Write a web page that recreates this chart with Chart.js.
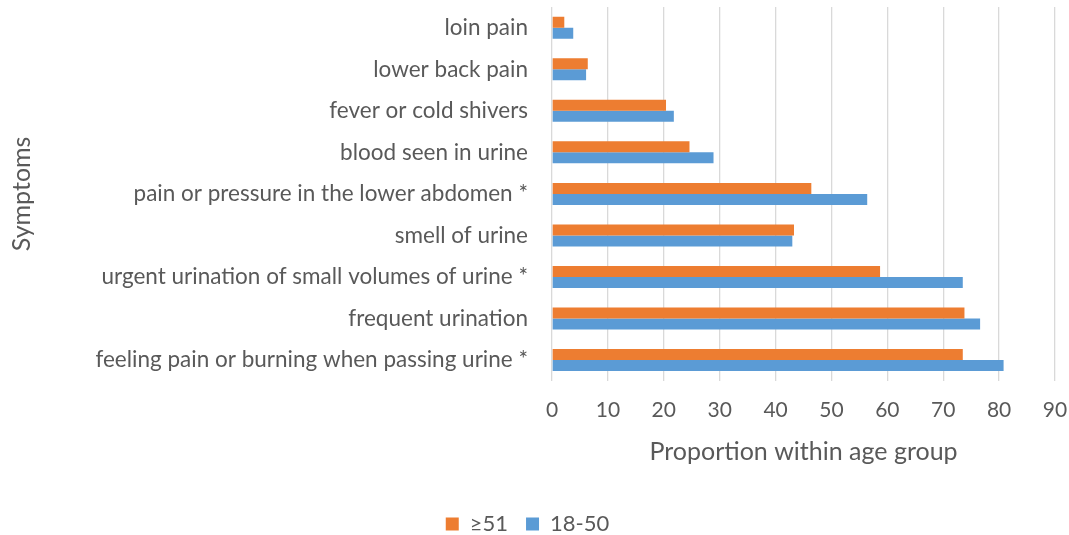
<!DOCTYPE html>
<html>
<head>
<meta charset="utf-8">
<script src="https://cdn.jsdelivr.net/npm/chart.js@4"></script>
<style>
  html, body { margin: 0; padding: 0; background: #fff; }
  #wrap { width: 1069px; height: 535px; }
</style>
</head>
<body>
<div id="wrap"><canvas id="symptoms"></canvas></div>
<script>
const symptoms = ["loin pain", "lower back pain", "fever or cold shivers", "blood seen in urine",
  "pain or pressure in the lower abdomen *", "smell of urine",
  "urgent urination of small volumes of urine *", "frequent urination",
  "feeling pain or burning when passing urine *"];
const older = [2.2, 6.4, 20.4, 24.6, 46.4, 43.3, 58.7, 73.8, 73.5];
const younger = [3.8, 6.1, 21.8, 28.9, 56.4, 43.0, 73.5, 76.6, 80.8];
const xTicks = [0, 10, 20, 30, 40, 50, 60, 70, 80, 90];

const grey = "#595959";
Chart.defaults.font.family = "Lato, 'Open Sans', sans-serif";
Chart.defaults.color = grey;

new Chart("symptoms", {
  type: "bar",
  data: {
    labels: symptoms,
    datasets: [
      { label: "\u226551", data: older, backgroundColor: "#ED7D31" },
      { label: "18-50", data: younger, backgroundColor: "#5B9BD5" }
    ]
  },
  options: {
    indexAxis: "y",
    responsive: true,
    maintainAspectRatio: false,
    animation: false,
    layout: { padding: { top: 7, right: 14, left: 0, bottom: -10 } },
    categoryPercentage: 0.53,
    barPercentage: 1.0,
    scales: {
      x: {
        min: 0, max: 90,
        afterBuildTicks: s => { s.ticks = xTicks.map(v => ({ value: v })); },
        grid: { color: "#d9d9d9", lineWidth: 1.3, drawTicks: false },
        border: { display: false },
        ticks: { font: { size: 21 }, color: grey, padding: 17 },
        title: { display: true, text: "Proportion within age group", font: { size: 25 }, color: grey, padding: { top: 0, bottom: 28 } },
        afterFit: s => { s.paddingLeft = 0; s.paddingRight = 0; s.height -= 3; }
      },
      y: {
        grid: { display: false },
        border: { display: false },
        ticks: { font: { size: 22.5 }, color: grey, padding: 16 },
        title: { display: true, text: "Symptoms", font: { size: 25 }, color: grey, padding: { top: 7, bottom: 0 } },
        afterFit: s => { s.width = 552; s.paddingTop = 0; s.paddingBottom = 0; }
      }
    },
    plugins: {
      legend: {
        position: "bottom",
        labels: { font: { size: 22 }, color: grey, boxWidth: 13, boxHeight: 13, padding: 18 }
      },
      tooltip: { enabled: false }
    }
  }
});
</script>
</body>
</html>
